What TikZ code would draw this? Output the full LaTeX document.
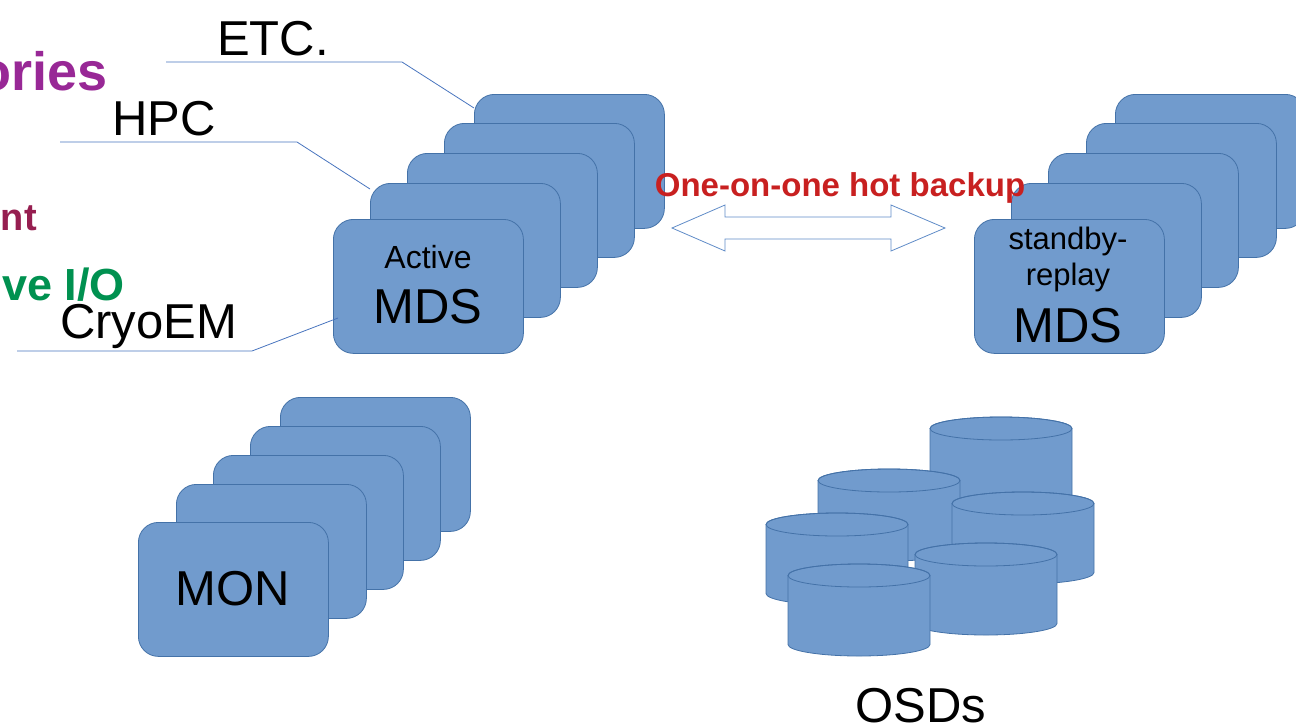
\documentclass[tikz,border=0pt]{standalone}
\usepackage{fontspec}
\setmainfont{Liberation Sans}
\definecolor{cardfill}{RGB}{113,155,205}
\definecolor{cardedge}{RGB}{68,114,168}
\definecolor{leadblue}{RGB}{72,116,190}
\definecolor{arrowedge}{RGB}{96,140,200}
\definecolor{hotred}{RGB}{200,32,32}
\definecolor{catpurple}{RGB}{152,40,150}
\definecolor{catwine}{RGB}{150,30,80}
\definecolor{catgreen}{RGB}{0,145,80}
\tikzset{
  card/.style={draw=cardedge, fill=cardfill, line width=0.8pt, rounded corners=20pt,
    minimum width=190pt, minimum height=134pt, inner sep=0pt, anchor=north west},
  lead/.style={draw=leadblue, line width=0.8pt},
  big/.style={inner sep=0pt, font=\fontsize{49}{49}\selectfont},
  mid/.style={inner sep=0pt, font=\fontsize{32}{32}\selectfont},
  cat/.style={inner sep=0pt, anchor=base east, font=\bfseries\fontsize{#1}{#1}\selectfont},
  hot/.style={inner sep=0pt, anchor=base, text=hotred, font=\bfseries\fontsize{33}{33}\selectfont}
}
% one storage drum: #1 = left edge, #2 = top of the lid
\newcommand\osdcyl[2]{%
  \path[draw=cardedge, fill=cardfill, line width=0.8pt]
    (#1,#2+11.5) -- ++(0,69)
    arc[start angle=180, end angle=360, x radius=71pt, y radius=11.5pt]
    -- ++(0,-69)
    arc[start angle=0, end angle=180, x radius=71pt, y radius=11.5pt] -- cycle;
  \draw[cardedge, line width=0.8pt] (#1+71,#2+11.5) ellipse[x radius=71pt, y radius=11.5pt];
}
\begin{document}
\begin{tikzpicture}[x=1pt, y=-1pt]
\useasboundingbox (0,0) rectangle (1296,724);

% workload categories on the left edge
\node[cat=54, text=catpurple] (cats) at (108,90) {ories};
\node[cat=38, text=catwine] (mgmt) at (37,230) {nt};
\node[cat=45, text=catgreen] (io) at (125,300) {ve I/O};

% active MDS stack
\node[card] (m5) at (474,94) {};
\node[card] (m4) at (444,123) {};
\node[card] (m3) at (407,153) {};
\node[card] (m2) at (370,183) {};
\node[card] (m1) at (333,219) {};
\node[mid, anchor=base] (act) at (428,268) {Active};
\node[big, anchor=base] (amds) at (428,323) {MDS};

% leaders from the workload labels to the MDS ranks
\node[big, anchor=base west] (etc) at (217,55) {ETC.};
\node[big, anchor=base west] (hpc) at (112,135) {HPC};
\node[big, anchor=base west] (cryo) at (60,338) {CryoEM};
\coordinate (etcA) at (166,62);
\coordinate (etcB) at (402,62);
\coordinate (hpcA) at (60,142);
\coordinate (hpcB) at (297,142);
\coordinate (cryA) at (17,351);
\coordinate (cryB) at (252,351);
\draw[lead] (etcA) -- (etcB) -- ([yshift=-14pt]m5.north west);
\draw[lead] (hpcA) -- (hpcB) -- ([yshift=-6pt]m2.north west);
\draw[lead] (cryA) -- (cryB) -- ([shift={(5pt,-99pt)}]m1.north west);

% standby-replay MDS stack
\node[card] (s5) at (1115,94) {};
\node[card] (s4) at (1086,123) {};
\node[card] (s3) at (1048,153) {};
\node[card] (s2) at (1011,183) {};
\node[card] (s1) at (974,219) {};
\node[inner sep=0pt, anchor=base, font=\fontsize{31}{31}\selectfont] (sb) at (1068,249) {standby-};
\node[inner sep=0pt, anchor=base, font=\fontsize{31}{31}\selectfont] (rp) at (1068,285) {replay};
\node[big, anchor=base] (smds) at (1068,342) {MDS};

% monitor stack
\node[card] (n5) at (280,397) {};
\node[card] (n4) at (250,426) {};
\node[card] (n3) at (213,455) {};
\node[card] (n2) at (176,484) {};
\node[card] (n1) at (138,522) {};
\node[big, anchor=base] (mon) at (233,605) {MON};

% object storage daemons
\osdcyl{930}{417}
\osdcyl{818}{469}
\osdcyl{952}{492}
\osdcyl{766}{513}
\osdcyl{915}{543}
\osdcyl{788}{564}
\node[big, anchor=base] (osd) at (921,722) {OSDs};

% hot backup between the two MDS stacks
\draw[draw=arrowedge, fill=white, line width=0.8pt]
  (672,228) -- (725,205) -- (725,217) -- (891,217) -- (891,205) -- (945,228)
  -- (891,251) -- (891,239) -- (725,239) -- (725,251) -- cycle;
\node[hot] (hb) at (840,196) {One-on-one hot backup};
\end{tikzpicture}
\end{document}
